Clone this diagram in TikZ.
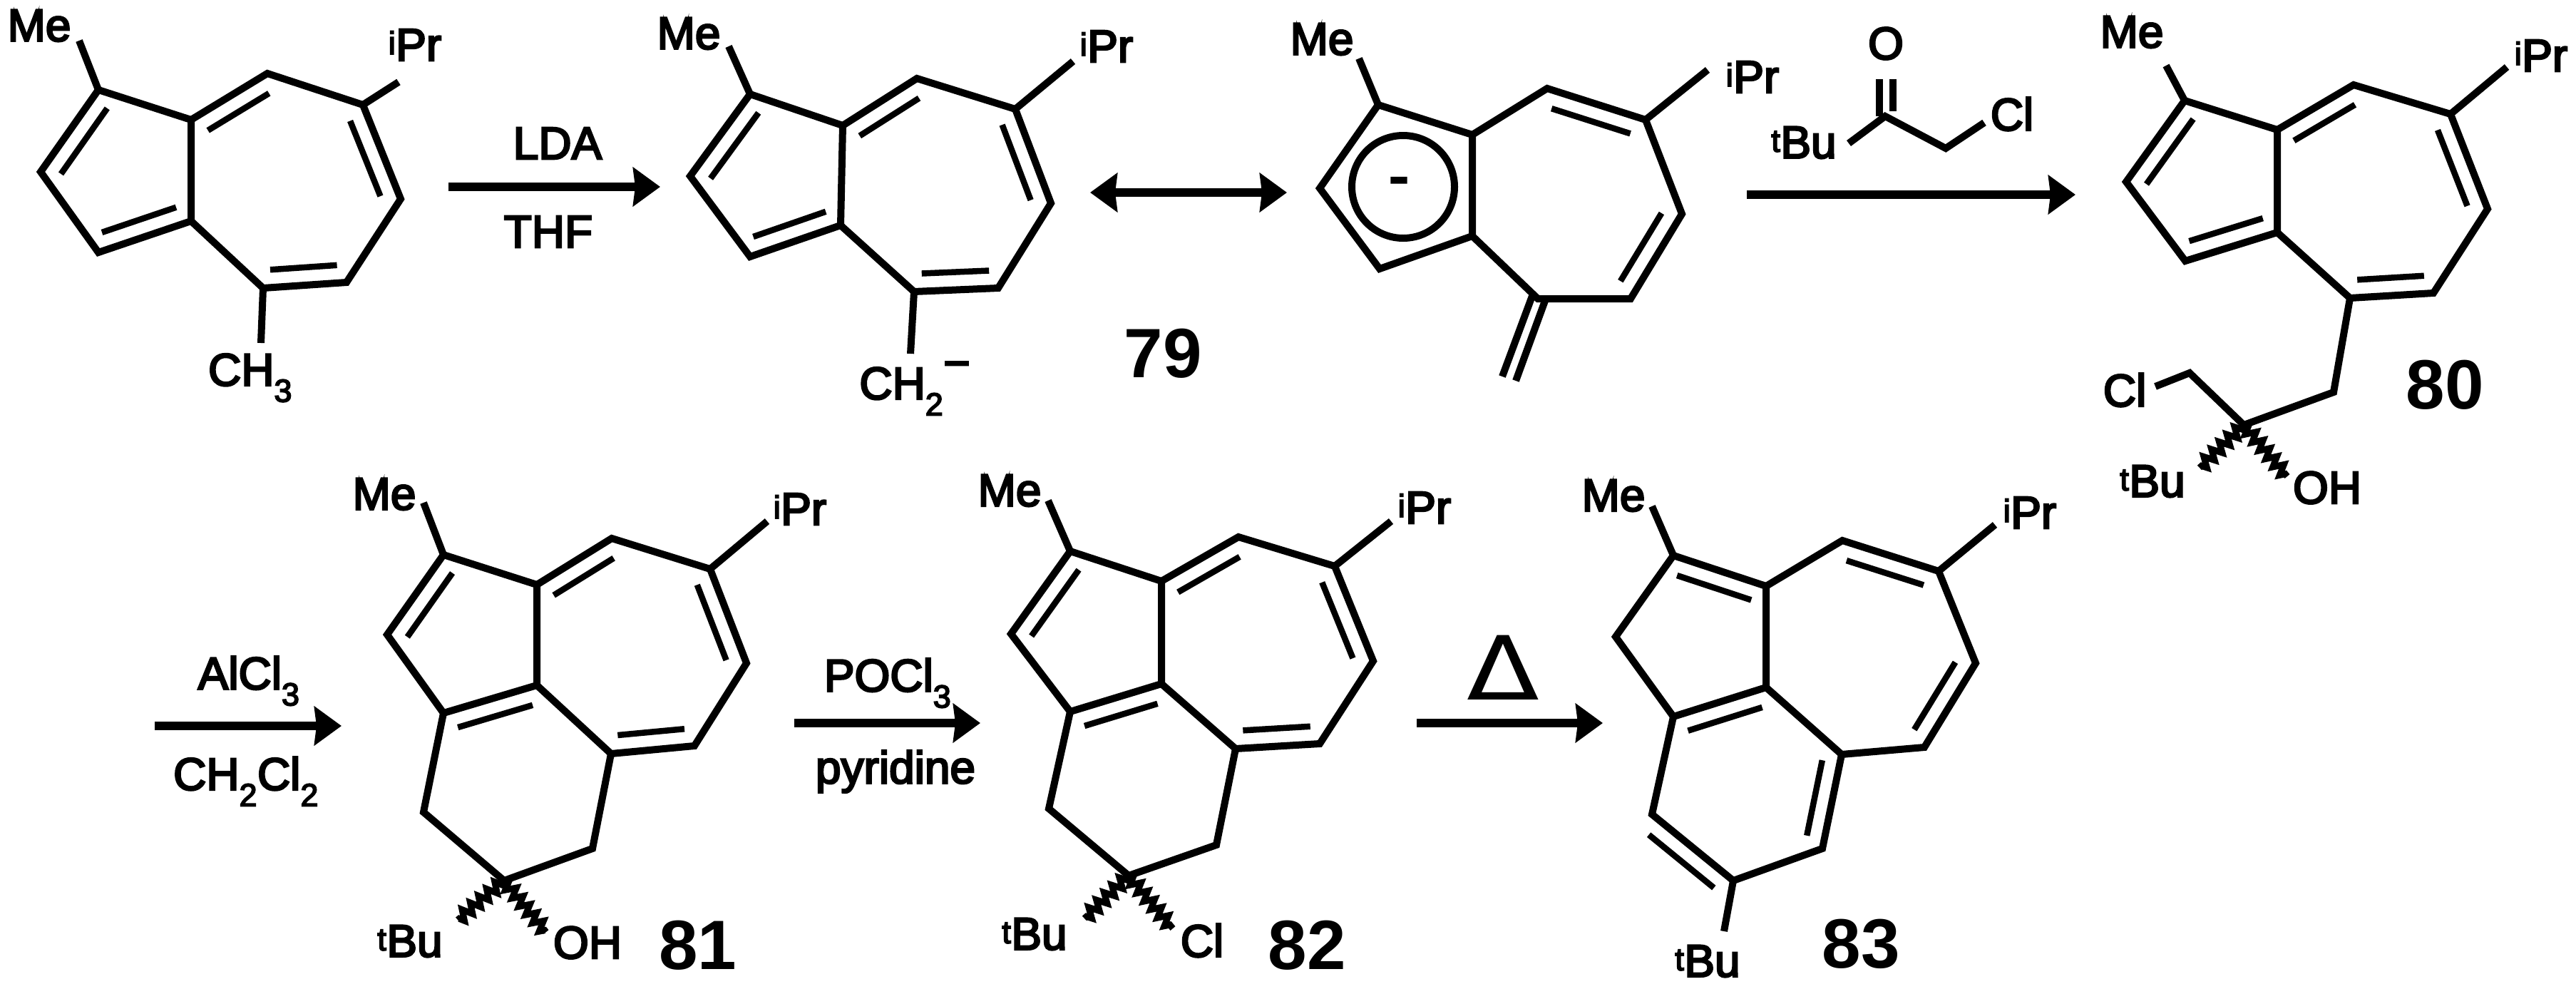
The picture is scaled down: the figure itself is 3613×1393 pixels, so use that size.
\documentclass[tikz,border=0pt]{standalone}
\usepackage{fontspec}
\setmainfont{Liberation Sans}[RawFeature={embolden=4}]
\newfontfamily\numfont{Liberation Sans Bold}
\newfontfamily\deltafont{DejaVu Sans}
\usetikzlibrary{arrows.meta,calc,decorations.pathmorphing}

\begin{document}
\begin{tikzpicture}[
      x=1pt,
      y=-1pt,
      bond/.style={line width=10pt},
      innerbond/.style={line width=8.5pt},
      wavy/.style={line width=9pt, decorate, decoration={zigzag, amplitude=7pt, segment length=15pt}},
      rxn/.style={line width=11.5pt, -{Stealth[length=38pt,width=54pt,inset=3pt]}},
      rxnboth/.style={line width=11.5pt, {Stealth[length=38pt,width=54pt,inset=3pt]}-{Stealth[length=38pt,width=54pt,inset=3pt]}},
      lab/.style={inner sep=0pt, font=\fontsize{64}{70}\selectfont},
      num/.style={inner sep=0pt, font=\fontsize{98}{100}\numfont}
    ]
    \useasboundingbox (0,0) rectangle (3613,1393);

    % ring atoms of the seven structures
    \foreach \n/\x/\y in {
        a1/138/126, a2/57/241, a3/138/354, a4/268/310, a5/268/168,
        a6/375/103, a7/509/147, a8/562/279, a9/486/396, a10/369/404,
        b1/1052/132, b2/968/247, b3/1052/360, b4/1179/316, b5/1182/176,
        b6/1286/110, b7/1424/153, b8/1474/285, b9/1400/404, b10/1282/409,
        c1/1933/147, c2/1851/264, c3/1935/377, c4/2065/331, c5/2065/189,
        c6/2170/124, c7/2308/168, c8/2359/300, c9/2287/419, c10/2157/419,
        d1/3064/141, d2/2982/255, d3/3065/366, d4/3194/326, d5/3194/182,
        d6/3301/119, d7/3437/160, d8/3489/293, d9/3413/411, d10/3296/418,
        e1/622/778, e2/543/890, e3/622/1000, e4/753/961, e5/753/820,
        e6/858/755, e7/996/798, e8/1047/930, e9/974/1046, e10/857/1057,
        f1/1501/773, f2/1418/889, f3/1501/998, f4/1629/959, f5/1629/815,
        f6/1737/753, f7/1872/794, f8/1926/927, f9/1851/1043, f10/1733/1050,
        g1/2347/779, g2/2266/893, g3/2347/1005, g4/2477/964, g5/2477/822,
        g6/2584/758, g7/2719/801, g8/2771/930, g9/2699/1048, g10/2583/1058}
      \coordinate (\n) at (\x,\y);

    % side chains and free bond ends
    \foreach \n/\x/\y in {
        aMe/111/57, aPr/559/115, aCH/366/481,
        bMe/1022/65, bPr/1505/86, bCH/1277/496,
        cMe/1906/82, cPr/2395/98, cA/2149/415, cB/2107/528, cC/2168/419, cD/2126/534,
        dMe/3038/92, dPr/3516/94, d11/3273/550, dQ/3147/596, d12/3071/523,
        dCl/3023/542, dBu/3085/656, dOH/3208/668,
        eMe/594/705, ePr/1076/731, e11/594/1139, eQ/707/1235, e12/831/1190,
        eBu/642/1290, eOH/766/1307,
        fMe/1470/702, fPr/1951/731, f11/1471/1134, fQ/1583/1228, f12/1706/1185,
        fBu/1521/1288, fCl/1645/1302,
        gMe/2317/710, gPr/2798/736, g11/2556/1190, g12/2431/1235, g13/2317/1142,
        gBu/2418/1306,
        rC/2644/163, rO1/2636/111, rC1/2636/163, rO2/2655/111, rC2/2655/156,
        rBu/2593/201, rCH/2729/208, rCl/2783/172,
        s1/629/262, t1/926/262, s2/1529/270, t2/1805/270, s3/2450/273, t3/2911/273,
        s4/217/1018, t4/479/1018, s5/1114/1014, t5/1375/1014, s6/1987/1014, t6/2248/1014}
      \coordinate (\n) at (\x,\y);

    \foreach \m in {a,b,c,d,e,f,g} {
      \draw[bond] (\m1) -- (\m2) -- (\m3) -- (\m4) -- (\m5) -- cycle;
      \draw[bond] (\m5) -- (\m6) -- (\m7) -- (\m8) -- (\m9) -- (\m10) -- (\m4);
      \draw[bond] (\m1) -- (\m Me);
      \draw[bond] (\m7) -- (\m Pr);
    }

    \draw[bond] (a10) -- (aCH);
    \draw[bond] (b10) -- (bCH);
    \draw[bond] (cA) -- (cB);
    \draw[bond] (cC) -- (cD);
    \draw[bond] (d10) -- (d11) -- (dQ) -- (d12) -- (dCl);
    \draw[bond] (e3) -- (e11) -- (eQ) -- (e12) -- (e10);
    \draw[bond] (f3) -- (f11) -- (fQ) -- (f12) -- (f10);
    \draw[bond] (g3) -- (g13) -- (g12) -- (g11) -- (g10);
    \draw[bond] (g12) -- (gBu);
    \draw[bond] (rBu) -- (rC) -- (rCH) -- (rCl);
    \draw[bond] (rO1) -- (rC1);
    \draw[bond] (rO2) -- (rC2);

    \foreach \p/\q in {
        a1/a2, a3/a4, a6/a5, a10/a9, a8/a7,
        b1/b2, b3/b4, b6/b5, b10/b9, b8/b7,
        c7/c6, c9/c8,
        d1/d2, d3/d4, d6/d5, d10/d9, d8/d7,
        e1/e2, e4/e3, e6/e5, e10/e9, e8/e7,
        f1/f2, f4/f3, f6/f5, f10/f9, f8/f7,
        g5/g1, g7/g6, g9/g8, g4/g3, g11/g10, g12/g13}
      \draw[innerbond] ($(\p)!.1!(\q)!25pt!90:(\q)$) -- ($(\q)!.1!(\p)!25pt!-90:(\p)$);

    \foreach \p/\q in {dQ/dBu, dQ/dOH, eQ/eBu, eQ/eOH, fQ/fBu, fQ/fCl}
      \draw[wavy] (\p) -- (\q);

    \draw[bond] (1968,262) circle (72);

    \foreach \i in {1,3,4,5,6}
      \draw[rxn] (s\i) -- (t\i);
    \draw[rxnboth] (s2) -- (t2);

    \node[lab] at (55,36) (MeA) {Me};
    \node[lab] at (582,63) (PrA) {\textsuperscript{i}Pr};
    \node[lab] at (351,530) (CHA) {CH\textsubscript{3}};
    \node[lab] at (782,201) (LDA) {LDA};
    \node[lab] at (769,325) (THF) {THF};
    \node[lab] at (966,47) (MeB) {Me};
    \node[lab] at (1552,65) (PrB) {\textsuperscript{i}Pr};
    \node[lab] at (1283,545) (CHB) {CH\textsubscript{2}\raisebox{.45em}{−}};
    \node[num] at (1631,496) (SeventyNine) {79};
    \node[lab] at (1854,55) (MeC) {Me};
    \node[lab] at (2458,108) (PrC) {\textsuperscript{i}Pr};
    \node[lab, font=\fontsize{82}{82}\selectfont] at (1962,262) (Minus) {-};
    \node[lab] at (2645,61) (Oxo) {O};
    \node[lab] at (2530,200) (BuR) {\textsuperscript{t}Bu};
    \node[lab] at (2822,160) (ClR) {Cl};
    \node[lab] at (2990,45) (MeD) {Me};
    \node[lab] at (3564,78) (PrD) {\textsuperscript{i}Pr};
    \node[lab] at (2980,547) (ClD) {Cl};
    \node[lab] at (3019,675) (BuD) {\textsuperscript{t}Bu};
    \node[lab] at (3264,684) (OHD) {OH};
    \node[num] at (3429,540) (Eighty) {80};
    \node[lab] at (349,955) (AlCl) {AlCl\textsubscript{3}};
    \node[lab] at (345,1096) (DCM) {CH\textsubscript{2}Cl\textsubscript{2}};
    \node[lab] at (539,693) (MeE) {Me};
    \node[lab] at (1122,714) (PrE) {\textsuperscript{i}Pr};
    \node[lab] at (575,1320) (BuE) {\textsuperscript{t}Bu};
    \node[lab] at (824,1322) (OHE) {OH};
    \node[num] at (979,1326) (EightyOne) {81};
    \node[lab] at (1245,958) (POCl) {POCl\textsubscript{3}};
    \node[lab] at (1256,1082) (Pyr) {pyridine};
    \node[lab] at (1416,688) (MeF) {Me};
    \node[lab] at (1998,712) (PrF) {\textsuperscript{i}Pr};
    \node[lab] at (1451,1310) (BuF) {\textsuperscript{t}Bu};
    \node[lab] at (1686,1319) (ClF) {Cl};
    \node[num] at (1833,1326) (EightyTwo) {82};
    \node[lab, font=\fontsize{124}{124}\deltafont] at (2108,936) (Heat) {\scalebox{1.2}[1]{Δ}};
    \node[lab] at (2263,695) (MeG) {Me};
    \node[lab] at (2847,719) (PrG) {\textsuperscript{i}Pr};
    \node[lab] at (2395,1348) (BuG) {\textsuperscript{t}Bu};
    \node[num] at (2610,1324) (EightyThree) {83};
  \end{tikzpicture}
\end{document}
